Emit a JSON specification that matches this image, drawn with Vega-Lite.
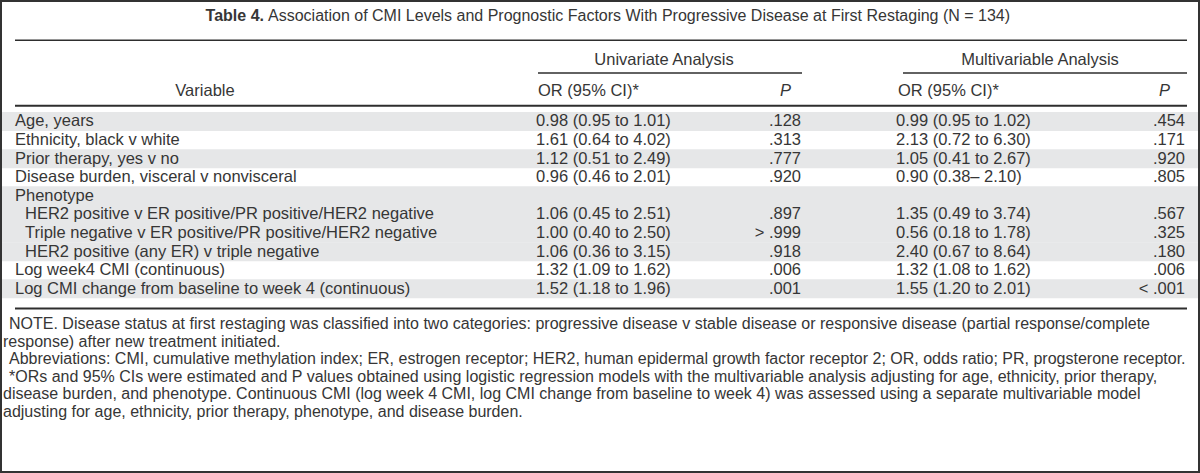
{
  "$schema": "https://vega.github.io/schema/vega-lite/v6.json",
  "width": 1200,
  "height": 473,
  "autosize": "none",
  "padding": 0,
  "background": "white",
  "config": {
    "view": {"stroke": "#333333", "strokeWidth": 4},
    "axis": {"disable": true},
    "text": {"font": "Liberation Sans", "fontSize": 16.5, "fontWeight": "normal", "color": "#363636", "baseline": "middle"},
    "rule": {"color": "#2e2e2e"}
  },
  "datasets": {
    "table": [
      {"row": 1, "group": 1, "level": 0, "variable": "Age, years", "uni_or": "0.98 (0.95 to 1.01)", "uni_p": ".128", "multi_or": "0.99 (0.95 to 1.02)", "multi_p": ".454"},
      {"row": 2, "group": 2, "level": 0, "variable": "Ethnicity, black v white", "uni_or": "1.61 (0.64 to 4.02)", "uni_p": ".313", "multi_or": "2.13 (0.72 to 6.30)", "multi_p": ".171"},
      {"row": 3, "group": 3, "level": 0, "variable": "Prior therapy, yes v no", "uni_or": "1.12 (0.51 to 2.49)", "uni_p": ".777", "multi_or": "1.05 (0.41 to 2.67)", "multi_p": ".920"},
      {"row": 4, "group": 4, "level": 0, "variable": "Disease burden, visceral v nonvisceral", "uni_or": "0.96 (0.46 to 2.01)", "uni_p": ".920", "multi_or": "0.90 (0.38\u2013 2.10)", "multi_p": ".805"},
      {"row": 5, "group": 5, "level": 0, "variable": "Phenotype", "uni_or": "", "uni_p": "", "multi_or": "", "multi_p": ""},
      {"row": 6, "group": 5, "level": 1, "variable": "HER2 positive v ER positive/PR positive/HER2 negative", "uni_or": "1.06 (0.45 to 2.51)", "uni_p": ".897", "multi_or": "1.35 (0.49 to 3.74)", "multi_p": ".567"},
      {"row": 7, "group": 5, "level": 1, "variable": "Triple negative v ER positive/PR positive/HER2 negative", "uni_or": "1.00 (0.40 to 2.50)", "uni_p": "> .999", "multi_or": "0.56 (0.18 to 1.78)", "multi_p": ".325"},
      {"row": 8, "group": 5, "level": 1, "variable": "HER2 positive (any ER) v triple negative", "uni_or": "1.06 (0.36 to 3.15)", "uni_p": ".918", "multi_or": "2.40 (0.67 to 8.64)", "multi_p": ".180"},
      {"row": 9, "group": 6, "level": 0, "variable": "Log week4 CMI (continuous)", "uni_or": "1.32 (1.09 to 1.62)", "uni_p": ".006", "multi_or": "1.32 (1.08 to 1.62)", "multi_p": ".006"},
      {"row": 10, "group": 7, "level": 0, "variable": "Log CMI change from baseline to week 4 (continuous)", "uni_or": "1.52 (1.18 to 1.96)", "uni_p": ".001", "multi_or": "1.55 (1.20 to 2.01)", "multi_p": "< .001"}
    ],
    "notes": [
      {"line": 1, "first": true, "text": "NOTE. Disease status at first restaging was classified into two categories: progressive disease v stable disease or responsive disease (partial response/complete"},
      {"line": 2, "first": false, "text": "response) after new treatment initiated."},
      {"line": 3, "first": true, "text": "Abbreviations: CMI, cumulative methylation index; ER, estrogen receptor; HER2, human epidermal growth factor receptor 2; OR, odds ratio; PR, progsterone receptor."},
      {"line": 4, "first": true, "text": "*ORs and 95% CIs were estimated and P values obtained using logistic regression models with the multivariable analysis adjusting for age, ethnicity, prior therapy,"},
      {"line": 5, "first": false, "text": "disease burden, and phenotype. Continuous CMI (log week 4 CMI, log CMI change from baseline to week 4) was assessed using a separate multivariable model"},
      {"line": 6, "first": false, "text": "adjusting for age, ethnicity, prior therapy, phenotype, and disease burden."}
    ],
    "one": [{}]
  },
  "resolve": {"scale": {"y": "independent"}},
  "layer": [
    {
      "data": {"name": "table"},
      "layer": [
        {
          "transform": [{"filter": "datum.group % 2 == 1"}],
          "mark": {"type": "bar", "orient": "horizontal", "size": 19, "color": "#e6e7e8"},
          "encoding": {
            "x": {"datum": 2, "type": "quantitative", "scale": {"domain": [0, 1200], "nice": false, "zero": false}},
            "x2": {"datum": 1198},
            "y": {"field": "row", "type": "quantitative", "scale": {"domain": [-5.263, 19.632], "reverse": true, "nice": false, "zero": false}}
          }
        },
        {
          "data": {"name": "one"},
          "mark": {"type": "rule", "strokeWidth": 1.5},
          "encoding": {
            "x": {"datum": 15, "type": "quantitative", "scale": {"domain": [0, 1200], "nice": false, "zero": false}},
            "x2": {"datum": 1187},
            "y": {"datum": -3.37, "type": "quantitative", "scale": {"domain": [-5.263, 19.632], "reverse": true, "nice": false, "zero": false}}
          }
        },
        {
          "data": {"name": "one"},
          "mark": {"type": "rule", "strokeWidth": 1.5},
          "encoding": {
            "x": {"datum": 538, "type": "quantitative", "scale": {"domain": [0, 1200], "nice": false, "zero": false}},
            "x2": {"datum": 802},
            "y": {"datum": -1.6, "type": "quantitative", "scale": {"domain": [-5.263, 19.632], "reverse": true, "nice": false, "zero": false}}
          }
        },
        {
          "data": {"name": "one"},
          "mark": {"type": "rule", "strokeWidth": 1.5},
          "encoding": {
            "x": {"datum": 903, "type": "quantitative", "scale": {"domain": [0, 1200], "nice": false, "zero": false}},
            "x2": {"datum": 1187},
            "y": {"datum": -1.6, "type": "quantitative", "scale": {"domain": [-5.263, 19.632], "reverse": true, "nice": false, "zero": false}}
          }
        },
        {
          "data": {"name": "one"},
          "mark": {"type": "rule", "strokeWidth": 2},
          "encoding": {
            "x": {"datum": 15, "type": "quantitative", "scale": {"domain": [0, 1200], "nice": false, "zero": false}},
            "x2": {"datum": 1187},
            "y": {"datum": 0.158, "type": "quantitative", "scale": {"domain": [-5.263, 19.632], "reverse": true, "nice": false, "zero": false}}
          }
        },
        {
          "data": {"name": "one"},
          "mark": {"type": "rule", "strokeWidth": 2},
          "encoding": {
            "x": {"datum": 15, "type": "quantitative", "scale": {"domain": [0, 1200], "nice": false, "zero": false}},
            "x2": {"datum": 1187},
            "y": {"datum": 11.05, "type": "quantitative", "scale": {"domain": [-5.263, 19.632], "reverse": true, "nice": false, "zero": false}}
          }
        },
        {
          "data": {"name": "one"},
          "mark": {"type": "text", "align": "right", "fontWeight": "bold", "fontSize": 16, "text": "Table 4."},
          "encoding": {
            "x": {"datum": 264, "type": "quantitative", "scale": {"domain": [0, 1200], "nice": false, "zero": false}},
            "y": {"datum": -4.69, "type": "quantitative", "scale": {"domain": [-5.263, 19.632], "reverse": true, "nice": false, "zero": false}}
          }
        },
        {
          "data": {"name": "one"},
          "mark": {"type": "text", "align": "left", "fontSize": 16, "text": "Association of CMI Levels and Prognostic Factors With Progressive Disease at First Restaging (N = 134)"},
          "encoding": {
            "x": {"datum": 268, "type": "quantitative", "scale": {"domain": [0, 1200], "nice": false, "zero": false}},
            "y": {"datum": -4.69, "type": "quantitative", "scale": {"domain": [-5.263, 19.632], "reverse": true, "nice": false, "zero": false}}
          }
        },
        {
          "data": {"name": "one"},
          "mark": {"type": "text", "align": "center", "text": "Univariate Analysis"},
          "encoding": {
            "x": {"datum": 664, "type": "quantitative", "scale": {"domain": [0, 1200], "nice": false, "zero": false}},
            "y": {"datum": -2.3, "type": "quantitative", "scale": {"domain": [-5.263, 19.632], "reverse": true, "nice": false, "zero": false}}
          }
        },
        {
          "data": {"name": "one"},
          "mark": {"type": "text", "align": "center", "text": "Multivariable Analysis"},
          "encoding": {
            "x": {"datum": 1040, "type": "quantitative", "scale": {"domain": [0, 1200], "nice": false, "zero": false}},
            "y": {"datum": -2.3, "type": "quantitative", "scale": {"domain": [-5.263, 19.632], "reverse": true, "nice": false, "zero": false}}
          }
        },
        {
          "data": {"name": "one"},
          "mark": {"type": "text", "align": "center", "text": "Variable"},
          "encoding": {
            "x": {"datum": 205, "type": "quantitative", "scale": {"domain": [0, 1200], "nice": false, "zero": false}},
            "y": {"datum": -0.63, "type": "quantitative", "scale": {"domain": [-5.263, 19.632], "reverse": true, "nice": false, "zero": false}}
          }
        },
        {
          "data": {"name": "one"},
          "mark": {"type": "text", "align": "left", "text": "OR (95% CI)*"},
          "encoding": {
            "x": {"datum": 538, "type": "quantitative", "scale": {"domain": [0, 1200], "nice": false, "zero": false}},
            "y": {"datum": -0.63, "type": "quantitative", "scale": {"domain": [-5.263, 19.632], "reverse": true, "nice": false, "zero": false}}
          }
        },
        {
          "data": {"name": "one"},
          "mark": {"type": "text", "align": "right", "fontStyle": "italic", "text": "P"},
          "encoding": {
            "x": {"datum": 791, "type": "quantitative", "scale": {"domain": [0, 1200], "nice": false, "zero": false}},
            "y": {"datum": -0.63, "type": "quantitative", "scale": {"domain": [-5.263, 19.632], "reverse": true, "nice": false, "zero": false}}
          }
        },
        {
          "data": {"name": "one"},
          "mark": {"type": "text", "align": "left", "text": "OR (95% CI)*"},
          "encoding": {
            "x": {"datum": 898, "type": "quantitative", "scale": {"domain": [0, 1200], "nice": false, "zero": false}},
            "y": {"datum": -0.63, "type": "quantitative", "scale": {"domain": [-5.263, 19.632], "reverse": true, "nice": false, "zero": false}}
          }
        },
        {
          "data": {"name": "one"},
          "mark": {"type": "text", "align": "right", "fontStyle": "italic", "text": "P"},
          "encoding": {
            "x": {"datum": 1170, "type": "quantitative", "scale": {"domain": [0, 1200], "nice": false, "zero": false}},
            "y": {"datum": -0.63, "type": "quantitative", "scale": {"domain": [-5.263, 19.632], "reverse": true, "nice": false, "zero": false}}
          }
        },
        {
          "transform": [{"filter": "datum.level == 0"}],
          "mark": {"type": "text", "align": "left"},
          "encoding": {
            "x": {"datum": 15, "type": "quantitative", "scale": {"domain": [0, 1200], "nice": false, "zero": false}},
            "y": {"field": "row", "type": "quantitative", "scale": {"domain": [-5.263, 19.632], "reverse": true, "nice": false, "zero": false}},
            "text": {"field": "variable"}
          }
        },
        {
          "transform": [{"filter": "datum.level == 1"}],
          "mark": {"type": "text", "align": "left"},
          "encoding": {
            "x": {"datum": 25, "type": "quantitative", "scale": {"domain": [0, 1200], "nice": false, "zero": false}},
            "y": {"field": "row", "type": "quantitative", "scale": {"domain": [-5.263, 19.632], "reverse": true, "nice": false, "zero": false}},
            "text": {"field": "variable"}
          }
        },
        {
          "mark": {"type": "text", "align": "left"},
          "encoding": {
            "x": {"datum": 536, "type": "quantitative", "scale": {"domain": [0, 1200], "nice": false, "zero": false}},
            "y": {"field": "row", "type": "quantitative", "scale": {"domain": [-5.263, 19.632], "reverse": true, "nice": false, "zero": false}},
            "text": {"field": "uni_or"}
          }
        },
        {
          "mark": {"type": "text", "align": "right"},
          "encoding": {
            "x": {"datum": 801, "type": "quantitative", "scale": {"domain": [0, 1200], "nice": false, "zero": false}},
            "y": {"field": "row", "type": "quantitative", "scale": {"domain": [-5.263, 19.632], "reverse": true, "nice": false, "zero": false}},
            "text": {"field": "uni_p"}
          }
        },
        {
          "mark": {"type": "text", "align": "left"},
          "encoding": {
            "x": {"datum": 896, "type": "quantitative", "scale": {"domain": [0, 1200], "nice": false, "zero": false}},
            "y": {"field": "row", "type": "quantitative", "scale": {"domain": [-5.263, 19.632], "reverse": true, "nice": false, "zero": false}},
            "text": {"field": "multi_or"}
          }
        },
        {
          "mark": {"type": "text", "align": "right"},
          "encoding": {
            "x": {"datum": 1185, "type": "quantitative", "scale": {"domain": [0, 1200], "nice": false, "zero": false}},
            "y": {"field": "row", "type": "quantitative", "scale": {"domain": [-5.263, 19.632], "reverse": true, "nice": false, "zero": false}},
            "text": {"field": "multi_p"}
          }
        }
      ]
    },
    {
      "data": {"name": "notes"},
      "layer": [
        {
          "transform": [{"filter": "datum.first"}],
          "mark": {"type": "text", "align": "left", "fontSize": 16},
          "encoding": {
            "x": {"datum": 9, "type": "quantitative", "scale": {"domain": [0, 1200], "nice": false, "zero": false}},
            "y": {"field": "line", "type": "quantitative", "scale": {"domain": [-17.409, 9.466], "reverse": true, "nice": false, "zero": false}},
            "text": {"field": "text"}
          }
        },
        {
          "transform": [{"filter": "!datum.first"}],
          "mark": {"type": "text", "align": "left", "fontSize": 16},
          "encoding": {
            "x": {"datum": 3, "type": "quantitative", "scale": {"domain": [0, 1200], "nice": false, "zero": false}},
            "y": {"field": "line", "type": "quantitative", "scale": {"domain": [-17.409, 9.466], "reverse": true, "nice": false, "zero": false}},
            "text": {"field": "text"}
          }
        }
      ]
    }
  ]
}
